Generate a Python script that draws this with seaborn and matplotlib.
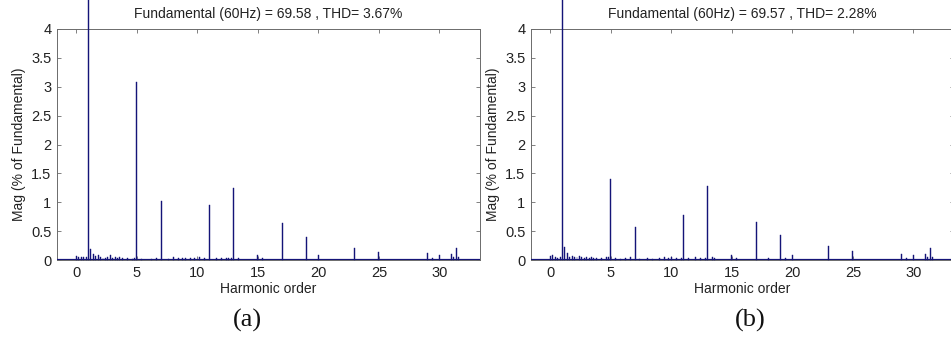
import numpy as np
import pandas as pd
import matplotlib
matplotlib.use("Agg")
import matplotlib.pyplot as plt
import seaborn as sns

# ---------------- data ----------------
ORDERS_A = [0.0, 0.2, 0.4, 0.6, 0.8, 1.0, 1.2, 1.4, 1.6, 1.8, 2.0, 2.2, 2.4, 2.6, 2.8,
            3.0, 3.2, 3.4, 3.6, 3.8, 4.2, 4.6, 4.8, 5.0, 5.4, 6.2, 6.6, 7.0, 7.6, 8.0,
            8.4, 8.8, 9.0, 9.4, 9.8, 10.2, 10.6, 11.0, 11.6, 12.0, 12.4, 12.6, 12.8, 13.0,
            13.4, 15.0, 15.4, 17.0, 19.0, 20.0, 23.0, 25.0, 29.0, 29.4, 30.0, 31.0, 31.2,
            31.4, 31.6]
MAG_A = [0.07, 0.05, 0.06, 0.05, 0.06, 100.0, 0.19, 0.10, 0.07, 0.08, 0.05, 0.03, 0.04, 0.05, 0.09,
         0.04, 0.05, 0.03, 0.05, 0.03, 0.04, 0.02, 0.04, 3.08, 0.02, 0.02, 0.03, 1.03, 0.02, 0.05,
         0.03, 0.04, 0.03, 0.04, 0.03, 0.06, 0.03, 0.95, 0.03, 0.04, 0.03, 0.04, 0.03, 1.25,
         0.04, 0.08, 0.03, 0.635, 0.40, 0.08, 0.21, 0.145, 0.12, 0.03, 0.08, 0.10, 0.06,
         0.21, 0.05]

ORDERS_B = [0.0, 0.2, 0.4, 0.6, 0.8, 1.0, 1.2, 1.4, 1.6, 1.8, 2.0, 2.2, 2.4, 2.6, 2.8,
            3.0, 3.2, 3.4, 3.6, 3.8, 4.2, 4.6, 4.8, 5.0, 5.4, 5.8, 6.2, 6.6, 7.0, 7.4,
            8.0, 8.4, 9.0, 9.4, 9.8, 10.0, 10.4, 10.8, 11.0, 11.4, 12.0, 12.4, 12.8, 13.0,
            13.4, 13.6, 15.0, 15.4, 17.0, 18.0, 19.0, 19.4, 20.0, 23.0, 25.0, 29.0, 29.4,
            30.0, 31.0, 31.2, 31.4, 31.6]
MAG_B = [0.07, 0.08, 0.06, 0.04, 0.05, 100.0, 0.23, 0.12, 0.06, 0.07, 0.05, 0.06, 0.07, 0.05, 0.04,
         0.05, 0.04, 0.05, 0.03, 0.04, 0.03, 0.05, 0.06, 1.40, 0.03, 0.02, 0.04, 0.05, 0.57, 0.02,
         0.03, 0.02, 0.03, 0.05, 0.03, 0.06, 0.03, 0.04, 0.78, 0.03, 0.05, 0.03, 0.04, 1.29,
         0.06, 0.04, 0.08, 0.03, 0.655, 0.03, 0.44, 0.03, 0.08, 0.24, 0.16, 0.11, 0.03,
         0.08, 0.10, 0.06, 0.20, 0.06]

TITLES = ["Fundamental (60Hz) = 69.58 , THD= 3.67%",
          "Fundamental (60Hz) = 69.57 , THD= 2.28%"]
PANEL_LABELS = ["(a)", "(b)"]
X_TICKS = [0, 5, 10, 15, 20, 25, 30]
Y_TICKS = [0, 0.5, 1, 1.5, 2, 2.5, 3, 3.5, 4]
XLABEL = "Harmonic order"
YLABEL = "Mag (% of Fundamental)"

# ---------------- style ----------------
sns.set_theme(style="white")
plt.rcParams["font.family"] = ["Liberation Sans", "DejaVu Sans"]

BAR_COLOR = "#141478"
SPINE_COLOR = "#6b6b6b"
TEXT_COLOR = "#222222"

W, H = 951, 344
fig = plt.figure(figsize=(W / 100, H / 100), dpi=100)

axes_px = [(57, 29, 423, 231), (531, 29, 423, 231)]
panel_px = [(247, 320), (750, 320)]

for i, (orders, mags) in enumerate([(ORDERS_A, MAG_A), (ORDERS_B, MAG_B)]):
    x0, y0, w, h = axes_px[i]
    ax = fig.add_axes([x0 / W, 1 - (y0 + h) / H, w / W, h / H])
    df = pd.DataFrame({"order": orders, "mag": mags})
    uniq = np.unique(df["order"].values)
    native = np.min(np.diff(uniq))
    bar_units = 0.08
    sns.barplot(data=df, x="order", y="mag", native_scale=True, ax=ax,
                color=BAR_COLOR, saturation=1, width=bar_units / native,
                edgecolor=BAR_COLOR, linewidth=0.3, errorbar=None)
    for p in ax.patches:
        p.set_clip_on(False)
        p.set_zorder(3)
    ax.axhline(0, color=BAR_COLOR, lw=1.6, zorder=4)
    ax.set_xlim(-1.6, 33.35)
    ax.set_ylim(0, 4)
    ax.set_xticks(X_TICKS)
    ax.set_yticks(Y_TICKS)
    ax.set_yticklabels([f"{v:g}" for v in Y_TICKS])
    ax.set_xticklabels([str(v) for v in X_TICKS])
    ax.tick_params(direction="in", length=3, width=0.6, color=SPINE_COLOR,
                   top=True, right=True, bottom=True, left=True,
                   labelsize=10.5, pad=4, labelcolor=TEXT_COLOR)
    for s in ax.spines.values():
        s.set_color(SPINE_COLOR)
        s.set_linewidth(0.7)
    ax.set_xlabel(XLABEL, fontsize=10, color=TEXT_COLOR, labelpad=2)
    ax.set_ylabel(YLABEL, fontsize=10, color=TEXT_COLOR, labelpad=4)
    ax.set_title(TITLES[i], fontsize=10, color=TEXT_COLOR, pad=8)
    ax.grid(False)
    px, py = panel_px[i]
    fig.text(px / W, 1 - py / H, PANEL_LABELS[i], ha="center", va="center",
             fontsize=19, color="#111111",
             family=["Liberation Serif", "DejaVu Serif"])

fig.savefig("out.png", dpi=100)
